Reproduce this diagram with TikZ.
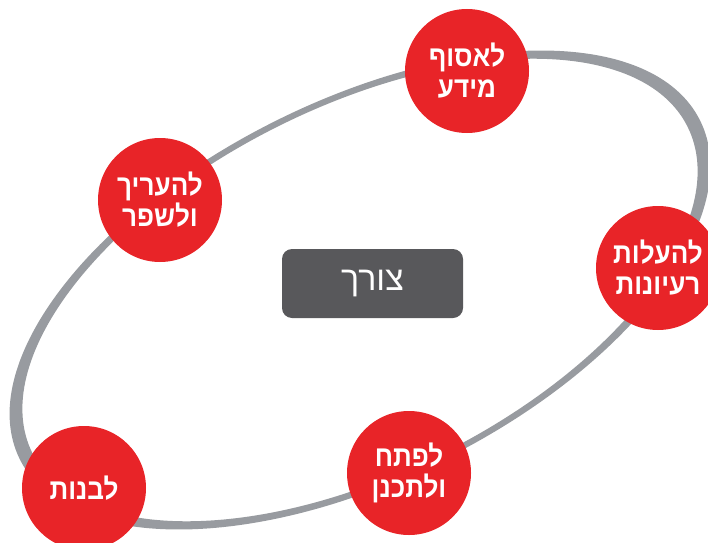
\documentclass[tikz,border=0pt]{standalone}
\usepackage{fontspec}
\newfontfamily\hebfont[Script=Hebrew,FakeStretch=0.9]{Liberation Sans}
\newfontfamily\hebwide[Script=Hebrew]{Liberation Sans}
\TeXXeTstate=1
\newcommand{\heb}[1]{\beginR #1\endR}
\definecolor{stagered}{RGB}{232,36,40}
\definecolor{ringgray}{RGB}{152,155,160}
\definecolor{needgray}{RGB}{88,88,91}
\tikzset{
  stage/.style={circle, fill=stagered, minimum size=124pt, inner sep=0pt,
    text=white, align=center, font=\hebfont\bfseries\fontsize{29}{31}\selectfont},
  need/.style={rectangle, rounded corners=10pt, fill=needgray, minimum width=181pt,
    minimum height=69pt, text=white, font=\hebwide\fontsize{34}{36}\selectfont}
}
\begin{document}
\begin{tikzpicture}[x=1pt,y=1pt]
    \useasboundingbox (0,0) rectangle (708,542);
    \clip (0,0) rectangle (708,542);
    % the ring
    \fill[ringgray, even odd rule, rotate around={26.5:(360,252)}]
        (360,252) ellipse [x radius=380, y radius=189]
        (360,252) ellipse [x radius=366, y radius=183];
    % the stages
    \node[stage] (info) at (467,471) {\heb{לאסוף}\\\heb{מידע}};
    \node[stage] (evaluate) at (160,342) {\heb{להעריך}\\\heb{ולשפר}};
    \node[stage] (ideas) at (658,274) {\heb{להעלות}\\\heb{רעיונות}};
    \node[stage] (plan) at (409,69) {\heb{לפתח}\\\heb{ולתכנן}};
    \node[stage] (build) at (84,54) {\heb{לבנות}};
    \node[need] (need) at (372.5,258.5) {\heb{צורך}};
\end{tikzpicture}
\end{document}
